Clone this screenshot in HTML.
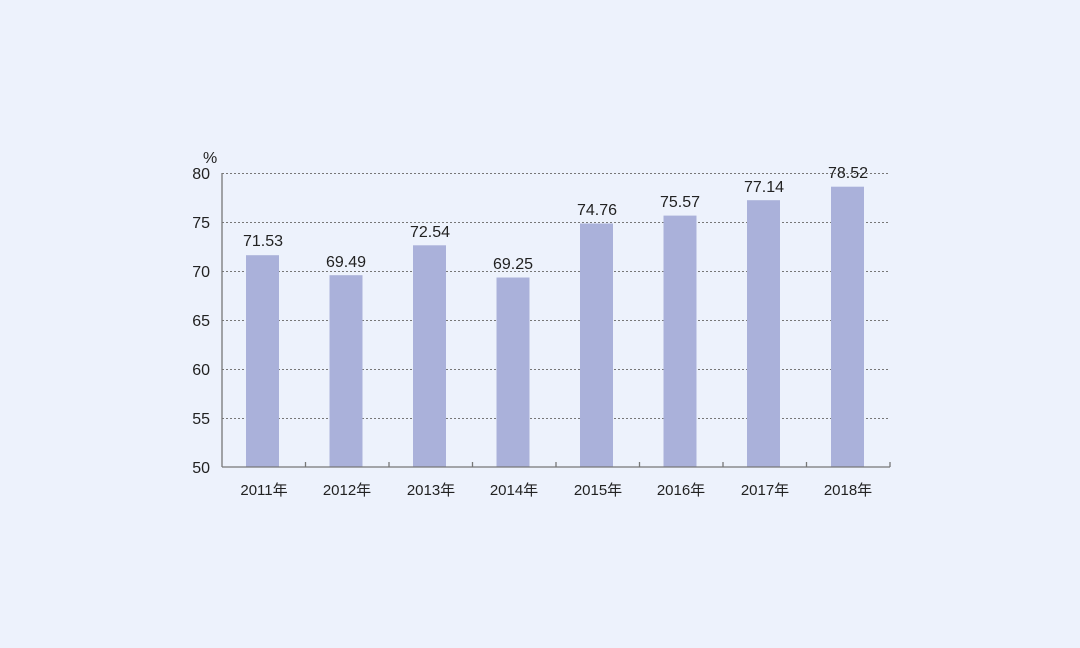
<!DOCTYPE html>
<html><head><meta charset="utf-8"><style>
html,body{margin:0;padding:0;background:#edf2fc;}
svg{display:block;font-family:"Liberation Sans","Noto Sans CJK SC",sans-serif;}
</style></head><body>
<svg width="1080" height="648" viewBox="0 0 1080 648">
<rect width="1080" height="648" fill="#edf2fc"/>
<g stroke="#777" stroke-width="1" stroke-dasharray="2,2">
<line x1="222" y1="173.5" x2="890" y2="173.5"/>
<line x1="222" y1="222.5" x2="890" y2="222.5"/>
<line x1="222" y1="271.5" x2="890" y2="271.5"/>
<line x1="222" y1="320.5" x2="890" y2="320.5"/>
<line x1="222" y1="369.5" x2="890" y2="369.5"/>
<line x1="222" y1="418.5" x2="890" y2="418.5"/>
</g>
<g fill="#aab1da">
<rect x="246" y="255.2" width="33" height="211.8"/>
<rect x="329.5" y="275.2" width="33" height="191.8"/>
<rect x="413" y="245.3" width="33" height="221.7"/>
<rect x="496.5" y="277.5" width="33" height="189.5"/>
<rect x="580" y="223.5" width="33" height="243.5"/>
<rect x="663.5" y="215.6" width="33" height="251.4"/>
<rect x="747" y="200.2" width="33" height="266.8"/>
<rect x="831" y="186.7" width="33" height="280.3"/>
</g>
<g stroke="#777" stroke-width="1.3" fill="none">
<line x1="222" y1="173" x2="222" y2="467"/>
<line x1="222" y1="467" x2="890" y2="467"/>
<path d="M305.5 467v-5M389 467v-5M472.5 467v-5M556 467v-5M639.5 467v-5M723 467v-5M806.5 467v-5M890 467v-5"/>
</g>
<g font-size="16" fill="#222" text-anchor="end">
<text x="210" y="179">80</text><text x="210" y="228">75</text><text x="210" y="277">70</text>
<text x="210" y="326">65</text><text x="210" y="375">60</text><text x="210" y="424">55</text><text x="210" y="473">50</text>
</g>
<text x="203" y="163" font-size="16" fill="#222">%</text>
<g font-size="16" fill="#222" text-anchor="middle">
<text x="263" y="246">71.53</text><text x="346" y="267">69.49</text><text x="430" y="237">72.54</text>
<text x="513" y="269">69.25</text><text x="597" y="215">74.76</text><text x="680" y="207">75.57</text>
<text x="764" y="192">77.14</text><text x="848" y="178">78.52</text>
</g>
<g font-size="15" fill="#222" text-anchor="middle">
<text x="264" y="495">2011年</text><text x="347" y="495">2012年</text><text x="431" y="495">2013年</text>
<text x="514" y="495">2014年</text><text x="598" y="495">2015年</text><text x="681" y="495">2016年</text>
<text x="765" y="495">2017年</text><text x="848" y="495">2018年</text>
</g>
</svg>
</body></html>
